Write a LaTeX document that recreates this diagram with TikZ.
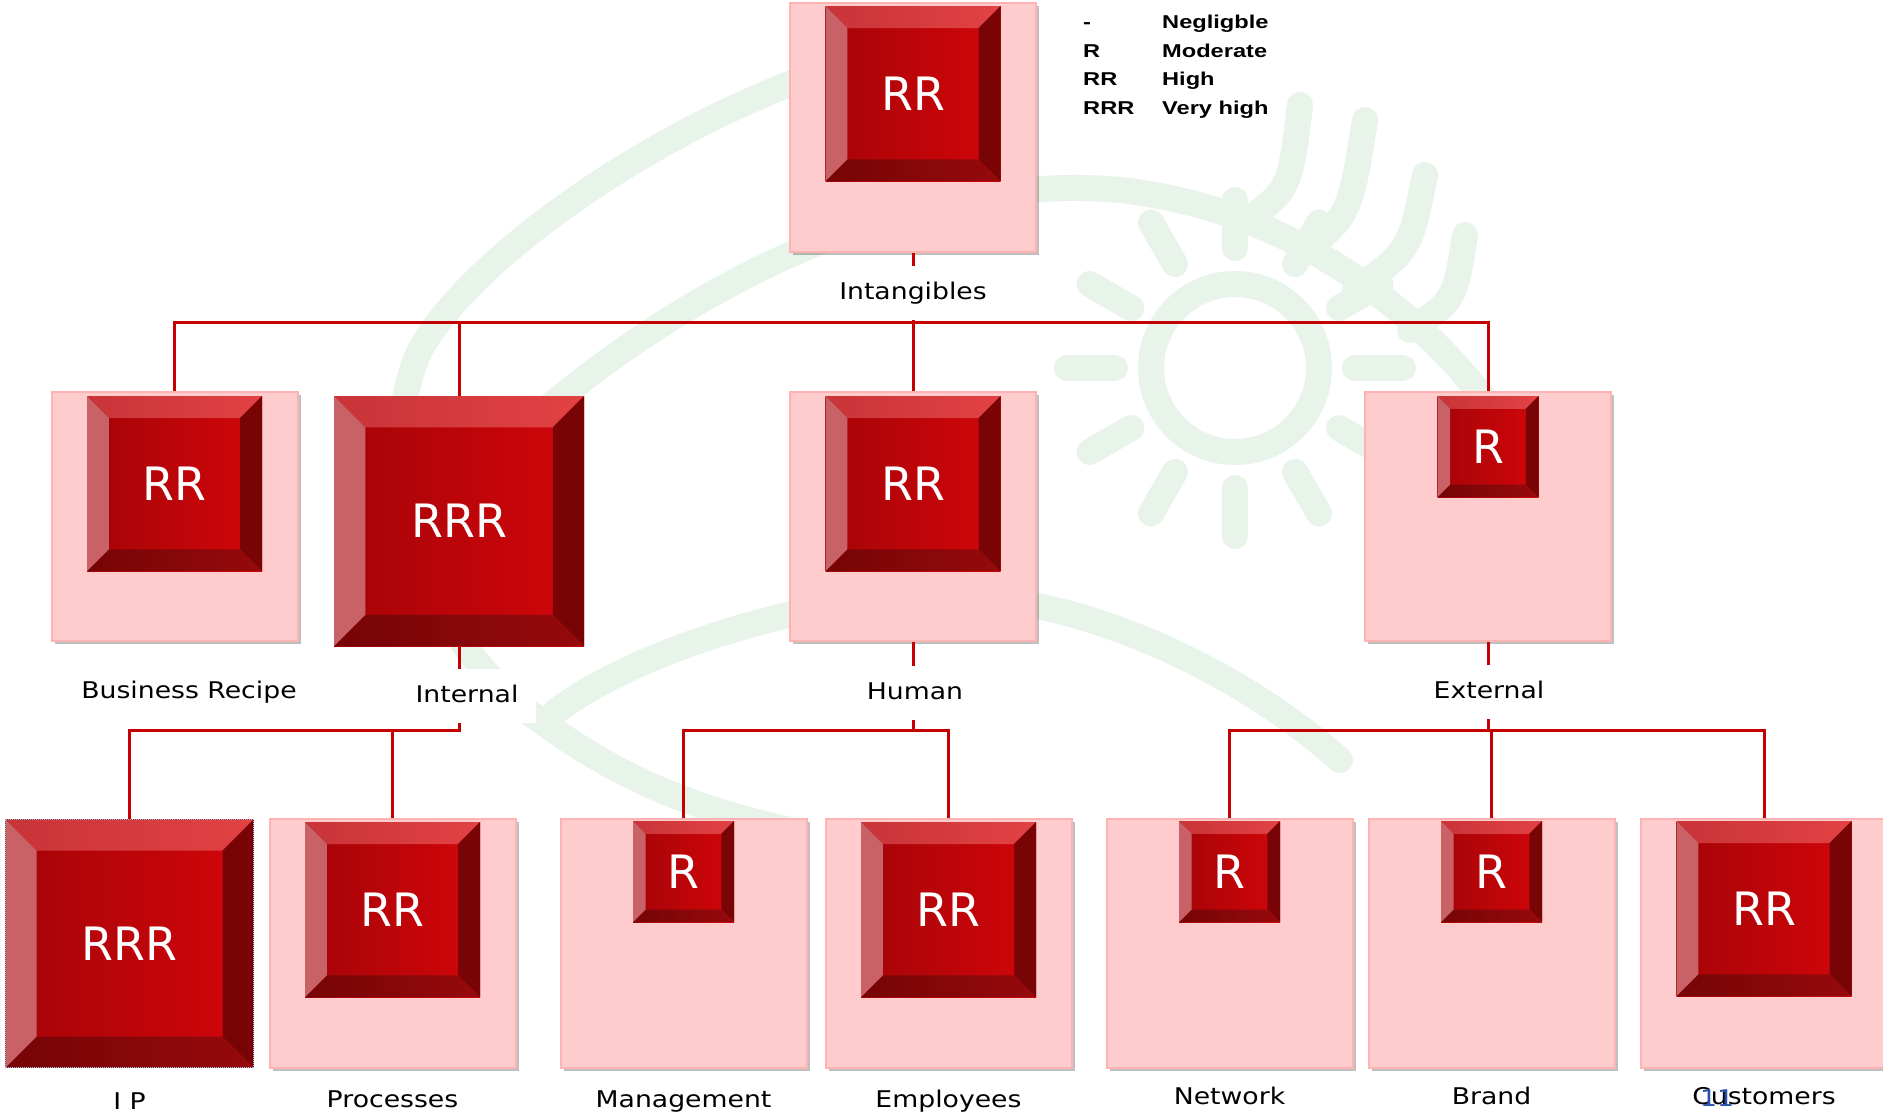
\documentclass[tikz,border=0pt]{standalone}
\usepackage{fontspec}
\usepackage{xcolor}
\usetikzlibrary{positioning, calc, shadows}

\definecolor{boxPink}{RGB}{255,204,205}
\definecolor{boxEdge}{RGB}{255,178,178}
\definecolor{lineRed}{RGB}{196,0,0}
\definecolor{btnLow}{RGB}{165,4,8}
\definecolor{btnHigh}{RGB}{210,6,10}
\definecolor{btnTopA}{RGB}{200,52,56}
\definecolor{btnTopB}{RGB}{226,66,68}
\definecolor{btnLeft}{RGB}{200,98,102}
\definecolor{btnRight}{RGB}{120,4,6}
\definecolor{btnBotA}{RGB}{118,4,6}
\definecolor{btnBotB}{RGB}{150,10,12}
\definecolor{wmGreen}{RGB}{232,243,234}
\definecolor{slideBlue}{RGB}{40,80,170}

\newfontfamily\btnfont{DejaVu Sans}
\newfontfamily\lblfont[FakeStretch=1.16]{DejaVu Sans}
\newfontfamily\legfont[FakeStretch=1.27]{Liberation Sans}

\tikzset{
  pinkbox/.style={rectangle, fill=boxPink, draw=boxEdge, line width=2pt, minimum width=246pt, minimum height=249pt, inner sep=0pt,
    drop shadow={shadow xshift=3pt, shadow yshift=-3pt, opacity=.25, fill=black}},
  button/.style={rectangle, minimum size=#1, inner sep=0pt, text=white, font=\btnfont\fontsize{46}{55}\selectfont,
    left color=btnLow, right color=btnHigh,
    path picture={
      \path (path picture bounding box.north west) coordinate (o1)
            (path picture bounding box.north east) coordinate (o2)
            (path picture bounding box.south east) coordinate (o3)
            (path picture bounding box.south west) coordinate (o4);
      \path ($(o1)!.125!(o3)$) coordinate (i1) ($(o2)!.125!(o4)$) coordinate (i2)
            ($(o3)!.125!(o1)$) coordinate (i3) ($(o4)!.125!(o2)$) coordinate (i4);
      \shade[left color=btnTopA, right color=btnTopB] (o1) -- (o2) -- (i2) -- (i1) -- cycle;
      \fill[btnRight] (o2) -- (o3) -- (i3) -- (i2) -- cycle;
      \shade[left color=btnBotA, right color=btnBotB] (o3) -- (o4) -- (i4) -- (i3) -- cycle;
      \fill[btnLeft] (o4) -- (o1) -- (i1) -- (i4) -- cycle;
    }},
  lbl/.style={fill=white, font=\lblfont\fontsize{23}{28}\selectfont, inner xsep=18pt, inner ysep=0pt,
    minimum height=54pt, text height=17pt, text depth=5pt},
  botlbl/.style={lbl, fill=none},
  conn/.style={draw=lineRed, line width=3pt},
  wm/.style={draw=wmGreen, line width=26pt, line cap=round}
}

\begin{document}
\begin{tikzpicture}[x=1pt, y=-1pt]
        \useasboundingbox (0,0) rectangle (1883,1117);
        \fill[white] (0,0) rectangle (1883,1117);
        % eye in the background
        \begin{scope}[wm]
          \draw (800,80) .. controls (640,140) and (470,260) .. (420,350) .. controls (370,460) and (420,640) .. (540,720) .. controls (620,780) and (700,810) .. (790,830);
          \draw (555,712) .. controls (650,640) and (850,590) .. (950,595) .. controls (1100,600) and (1250,680) .. (1340,760);
          \draw (480,470) .. controls (650,300) and (900,170) .. (1120,190) .. controls (1300,210) and (1430,320) .. (1500,420);
          \draw (1235,368) circle[radius=84];
          \foreach \a in {0,30,...,330}
            \draw ($(1235,368)+(\a:120)$) -- ($(1235,368)+(\a:168)$);
          \draw (1240,225) .. controls (1290,190) .. (1300,105);
          \draw (1300,255) .. controls (1350,215) .. (1365,120);
          \draw (1355,290) .. controls (1410,250) .. (1425,175);
          \draw (1410,330) .. controls (1455,300) .. (1465,235);
        \end{scope}
        % Top level
        \node[pinkbox] (topBox) at (913,127.5) {};
        \node[button=175pt, below=4pt of topBox.north] (topBtn) {RR};
        % Second level
        \node[pinkbox] (bizBox) at (174.5,516.5) {};
        \node[button=175pt, below=5pt of bizBox.north] (bizBtn) {RR};
        \node[button=250pt] (intBtn) at (459,521) {RRR};
        \node[pinkbox] (humBox) at (913,516.5) {};
        \node[button=175pt, below=5pt of humBox.north] (humBtn) {RR};
        \node[pinkbox] (extBox) at (1488,516.5) {};
        \node[button=101pt, below=5pt of extBox.north] (extBtn) {R};
        % Third level
        \node[button=248pt, draw={rgb,255:red,150;green,200;blue,230}, densely dotted, line width=1pt] (ipBtn) at (129.5,943.5) {RRR};
        \node[pinkbox] (procBox) at (392.5,943.5) {};
        \node[button=175pt, below=4pt of procBox.north] (procBtn) {RR};
        \node[pinkbox] (mgmtBox) at (683.5,943.5) {};
        \node[button=101pt, below=3pt of mgmtBox.north] (mgmtBtn) {R};
        \node[pinkbox] (empBox) at (948.5,943.5) {};
        \node[button=175pt, below=4pt of empBox.north] (empBtn) {RR};
        \node[pinkbox] (netBox) at (1229.5,943.5) {};
        \node[button=101pt, below=3pt of netBox.north] (netBtn) {R};
        \node[pinkbox] (brandBox) at (1491.5,943.5) {};
        \node[button=101pt, below=3pt of brandBox.north] (brandBtn) {R};
        \node[pinkbox] (custBox) at (1764,943.5) {};
        \node[button=175pt, below=3pt of custBox.north] (custBtn) {RR};
        % Connectors
        \coordinate (lvl2) at (0,322);
        \coordinate (lvl3) at (0,730);
        \draw[conn] (topBox.south) -- (topBox.south |- lvl2);
        \draw[conn] (bizBox.north) -- (bizBox.north |- lvl2) -- (extBox.north |- lvl2) -- (extBox.north);
        \draw[conn] (intBtn.north |- lvl2) -- (intBtn.north);
        \draw[conn] (humBox.north |- lvl2) -- (humBox.north);
        \draw[conn] (intBtn.south) -- (intBtn.south |- lvl3) -- (ipBtn.north |- lvl3) -- (ipBtn.north);
        \draw[conn] (procBox.north |- lvl3) -- (procBox.north);
        \draw[conn] (humBox.south) -- (humBox.south |- lvl3);
        \draw[conn] (mgmtBox.north) -- (mgmtBox.north |- lvl3) -- (empBox.north |- lvl3) -- (empBox.north);
        \draw[conn] (extBox.south) -- (extBox.south |- lvl3);
        \draw[conn] (netBox.north) -- (netBox.north |- lvl3) -- (custBox.north |- lvl3) -- (custBox.north);
        \draw[conn] (brandBox.north |- lvl3) -- (brandBox.north);
        % Labels
        \node[lbl] (topLbl) at (913,293) {Intangibles};
        \node[lbl] (bizLbl) at (189,692) {Business Recipe};
        \node[lbl] (intLbl) at (467,696) {Internal};
        \node[lbl] (humLbl) at (915,693) {Human};
        \node[lbl] (extLbl) at (1489,692) {External};
        \node[botlbl, below=8pt of ipBtn] (ipLbl) {I P};
        \node[botlbl, below=5pt of procBox] (procLbl) {Processes};
        \node[botlbl, below=5pt of mgmtBox] (mgmtLbl) {Management};
        \node[botlbl, below=5pt of empBox] (empLbl) {Employees};
        \node[botlbl, below=2pt of netBox] (netLbl) {Network};
        \node[botlbl, below=2pt of brandBox] (brandLbl) {Brand};
        \node[botlbl, below=2pt of custBox] (custLbl) {Customers};
        \node[botlbl, text=slideBlue] (slideNo) at (1717,1100) {11};
        % Legend
        \node[anchor=north west, inner sep=0pt, font=\legfont\bfseries\fontsize{18.6}{28.5}\selectfont] (legend) at (1083,8.7)
          {\begin{tabular}{@{}p{79pt}@{}l@{}}
            - & Negligble\\
            R & Moderate\\
            RR & High\\
            RRR & Very high
          \end{tabular}};
    \end{tikzpicture}
\end{document}
